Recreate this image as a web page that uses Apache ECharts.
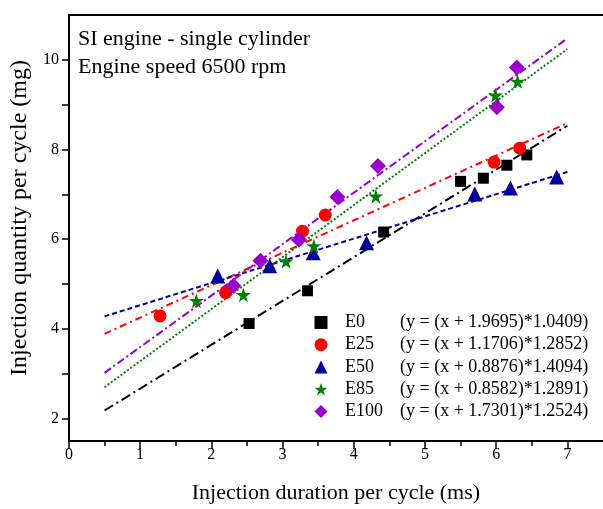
<!DOCTYPE html>
<html>
<head>
<meta charset="utf-8">
<script src="https://cdn.jsdelivr.net/npm/echarts@6/dist/echarts.min.js"></script>
<style>
  html, body { margin: 0; padding: 0; background: #fff; }
  #chart { width: 603px; height: 509px; }
</style>
</head>
<body>
<div id="chart"></div>
<script>
// measured points, [injection duration (ms), injection quantity (mg)]
const e0Points = [[2.53, 4.12], [3.35, 4.85], [4.42, 6.16], [5.50, 7.29], [5.82, 7.36], [6.15, 7.65], [6.43, 7.88]]
const e25Points = [[1.28, 4.29], [2.20, 4.81], [3.28, 6.18], [3.60, 6.54], [5.97, 7.72], [6.33, 8.03]]
const e50Points = [[2.09, 5.18], [2.82, 5.41], [3.43, 5.70], [4.18, 5.92], [5.70, 7.01], [6.20, 7.14], [6.85, 7.39]]
const e85Points = [[1.79, 4.63], [2.45, 4.76], [3.05, 5.51], [3.44, 5.85], [4.31, 6.96], [5.99, 9.21], [6.30, 9.52]]
const e100Points = [[2.31, 4.96], [2.69, 5.52], [3.23, 5.99], [3.77, 6.94], [4.34, 7.63], [6.01, 8.94], [6.29, 9.83]]

// fit line ends at x = 0.5 and x = 7
const fitX = [0.5, 7]
const e0Fit = [2.18, 8.53]
const e25Fit = [3.89, 8.59]
const e50Fit = [4.28, 7.50]
const e85Fit = [2.70, 10.24]
const e100Fit = [3.02, 10.48]

const fuelNames = ['E0', 'E25', 'E50', 'E85', 'E100']
const equations = [
  '(y = (x + 1.9695)*1.0409)',
  '(y = (x + 1.1706)*1.2852)',
  '(y = (x + 0.8876)*1.4094)',
  '(y = (x + 0.8582)*1.2891)',
  '(y = (x + 1.7301)*1.2524)'
]
const xLabels = [0, 1, 2, 3, 4, 5, 6, 7]
const xMinorTicks = [0.5, 1.5, 2.5, 3.5, 4.5, 5.5, 6.5]
const yLabels = [2, 4, 6, 8, 10]
const yTicks = [2, 3, 4, 5, 6, 7, 8, 9, 10]

const serif = '"Liberation Serif", "DejaVu Serif", serif'
const starPath = 'path://M50,0 L61,35 L98,35 L68,57 L79,91 L50,70 L21,91 L32,57 L2,35 L39,35 Z'

const fuels = [
  { points: e0Points, fit: e0Fit, color: '#000000', symbol: 'rect', size: 11, dash: [10, 4, 2, 4] },
  { points: e25Points, fit: e25Fit, color: '#ff0000', symbol: 'circle', size: 13, dash: [7, 4, 2, 4] },
  { points: e50Points, fit: e50Fit, color: '#000099', symbol: 'triangle', size: 15, dash: [5, 3] },
  { points: e85Points, fit: e85Fit, color: '#008000', symbol: starPath, size: 15, dash: [2, 2] },
  { points: e100Points, fit: e100Fit, color: '#9900cc', symbol: 'diamond', size: 16, dash: [8, 3, 2, 3] }
]

const chart = echarts.init(document.getElementById('chart'))

const series = []
fuels.forEach((f, i) => {
  series.push({
    name: fuelNames[i] + ' fit',
    type: 'line',
    data: fitX.map((x, k) => [x, f.fit[k]]),
    showSymbol: false,
    silent: true,
    lineStyle: { color: f.color, width: 2, type: f.dash },
    z: 2
  })
})
fuels.forEach((f, i) => {
  series.push({
    name: fuelNames[i],
    type: 'scatter',
    data: f.points,
    symbol: f.symbol,
    symbolSize: f.size,
    itemStyle: { color: f.color, opacity: 1 },
    z: 3
  })
})

const option = {
  animation: false,
  backgroundColor: '#fff',
  textStyle: { fontFamily: serif, color: '#000' },
  title: {
    text: 'SI engine - single cylinder\nEngine speed 6500 rpm',
    left: 78,
    top: 25,
    padding: 0,
    textStyle: { fontFamily: serif, fontSize: 22, fontWeight: 'normal', color: '#000', lineHeight: 28 }
  },
  grid: { left: 68, top: 15, right: 0, bottom: 66.5 },
  legend: {
    data: fuelNames,
    orient: 'vertical',
    left: 314.5,
    top: 313.5,
    itemWidth: 13,
    itemHeight: 13,
    itemGap: 4.25,
    selectedMode: false,
    padding: 0,
    formatter: name => `{s| }{n|${name}}{e|${equations[fuelNames.indexOf(name)]}}`,
    textStyle: {
      fontFamily: serif,
      fontSize: 18,
      color: '#000',
      rich: {
        s: { width: 12.5, fontSize: 18, lineHeight: 18 },
        n: { width: 55, fontFamily: serif, fontSize: 18, lineHeight: 18, color: '#000' },
        e: { fontFamily: serif, fontSize: 18, lineHeight: 18, color: '#000' }
      }
    }
  },
  xAxis: [
    {
      type: 'value',
      min: 0,
      max: 7.5,
      position: 'bottom',
      name: 'Injection duration per cycle (ms)',
      nameLocation: 'middle',
      nameGap: 41,
      nameTextStyle: { fontFamily: serif, fontSize: 22, color: '#000' },
      splitLine: { show: false },
      axisLine: { lineStyle: { color: '#000', width: 2 } },
      axisTick: { inside: false, length: 8, customValues: xLabels, lineStyle: { color: '#000', width: 1.5 } },
      axisLabel: { customValues: xLabels, fontFamily: serif, fontSize: 16, color: '#000', margin: 6 }
    },
    {
      type: 'value',
      min: 0,
      max: 7.5,
      position: 'bottom',
      gridIndex: 0,
      splitLine: { show: false },
      axisLine: { show: false },
      axisTick: { inside: false, length: 5, customValues: xMinorTicks, lineStyle: { color: '#000', width: 1.5 } },
      axisLabel: { show: false }
    },
    {
      type: 'value',
      min: 0,
      max: 7.5,
      position: 'top',
      splitLine: { show: false },
      axisLine: { lineStyle: { color: '#000', width: 2 } },
      axisTick: { show: false },
      axisLabel: { show: false }
    }
  ],
  yAxis: {
    type: 'value',
    min: 1.5,
    max: 11,
    name: 'Injection quantity per cycle (mg)',
    nameLocation: 'middle',
    nameGap: 31,
    nameTextStyle: { fontFamily: serif, fontSize: 24, color: '#000', padding: [0, 0, 0, 20] },
    splitLine: { show: false },
    axisLine: { show: true, lineStyle: { color: '#000', width: 2 } },
    axisTick: { show: true, length: 7, customValues: yTicks, lineStyle: { color: '#000', width: 1.5 } },
    axisLabel: { customValues: yLabels, fontFamily: serif, fontSize: 16, color: '#000', margin: 10 }
  },
  series: series
}

chart.setOption(option)
</script>
</body>
</html>
